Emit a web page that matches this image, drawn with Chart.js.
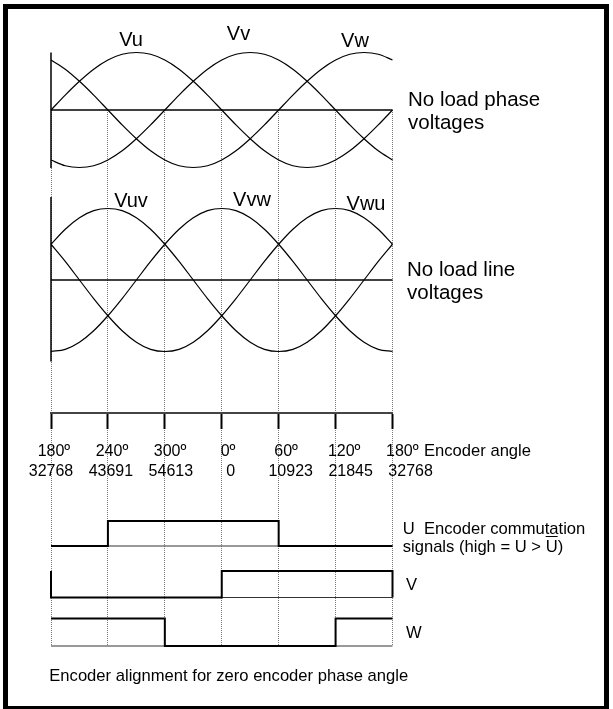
<!DOCTYPE html>
<html>
<head>
<meta charset="utf-8">
<script src="https://cdn.jsdelivr.net/npm/chart.js@4.4.0/dist/chart.umd.min.js"></script>
<style>
  html, body { margin: 0; padding: 0; background: #fff; }
  #wrap { position: relative; width: 613px; height: 709px; overflow: hidden;
          font-family: "Liberation Sans", Arial, sans-serif; color: #000; }
  #frame { position: absolute; left: 3px; top: 4px; width: 606px; height: 707px;
           box-sizing: border-box; border: 5px solid #000; }
  canvas { position: absolute; left: 0; top: 0; }
  .lbl { position: absolute; white-space: nowrap; }
  .num { position: relative; }
  .deg { position: absolute; left: 100%; top: 0; }
  .bar { text-decoration: overline; }
</style>
</head>
<body>
<div id="wrap">
  <div id="frame"></div>
  <canvas id="diagram" width="613" height="709"></canvas>
</div>
<script>
// electrical angle (0 = encoder 180º), sampled every 15º
const angles = [0, 15, 30, 45, 60, 75, 90, 105, 120, 135, 150, 165, 180,
                195, 210, 225, 240, 255, 270, 285, 300, 315, 330, 345, 360];

// no load phase voltages (per unit)
const vu = [0, .26, .5, .71, .87, .97, 1, .97, .87, .71, .5, .26, 0,
            -.26, -.5, -.71, -.87, -.97, -1, -.97, -.87, -.71, -.5, -.26, 0];
const vv = [-.87, -.97, -1, -.97, -.87, -.71, -.5, -.26, 0, .26, .5, .71, .87,
            .97, 1, .97, .87, .71, .5, .26, 0, -.26, -.5, -.71, -.87];
const vw = [.87, .71, .5, .26, 0, -.26, -.5, -.71, -.87, -.97, -1, -.97, -.87,
            -.71, -.5, -.26, 0, .26, .5, .71, .87, .97, 1, .97, .87];

// no load line voltages (per unit of line peak)
const vuv = [.5, .71, .87, .97, 1, .97, .87, .71, .5, .26, 0, -.26, -.5,
             -.71, -.87, -.97, -1, -.97, -.87, -.71, -.5, -.26, 0, .26, .5];
const vvw = [-1, -.97, -.87, -.71, -.5, -.26, 0, .26, .5, .71, .87, .97, 1,
             .97, .87, .71, .5, .26, 0, -.26, -.5, -.71, -.87, -.97, -1];
const vwu = [.5, .26, 0, -.26, -.5, -.71, -.87, -.97, -1, -.97, -.87, -.71, -.5,
             -.26, 0, .26, .5, .71, .87, .97, 1, .97, .87, .71, .5];

// encoder axis
const tickAngles = [0, 60, 120, 180, 240, 300, 360];
const encoderDeg = ['180', '240', '300', '0', '60', '120', '180'];
const encoderCount = ['32768', '43691', '54613', '0', '10923', '21845', '32768'];

// commutation signals, state per 60º sector
const sectorStart = [0, 60, 120, 180, 240, 300];
const uState = [0, 1, 1, 1, 0, 0];
const vState = [0, 0, 0, 1, 1, 1];
const wState = [1, 1, 0, 0, 0, 1];

// layout: plot area and where each strip sits (zero pixel, pixels per unit)
const AREA = { left: 51, right: 392.5, top: 110, bottom: 646 };
const STRIPS = {
  yPhase: { zero: 110, unit: 57.5 },
  yLine:  { zero: 280, unit: 71.5 },
  yEnc:   { zero: 413, unit: 1 },
  yU:     { zero: 546, unit: 25 },
  yV:     { zero: 597.5, unit: 26.5 },
  yW:     { zero: 646, unit: 27.5 }
};
const FULL = 360;

function band(id) {
  const s = STRIPS[id];
  return {
    type: 'linear', display: false,
    min: -(AREA.bottom - s.zero) / s.unit,
    max: (s.zero - AREA.top) / s.unit
  };
}

function curve(vals, axis) {
  return {
    data: angles.map((a, i) => ({ x: a, y: vals[i] })),
    yAxisID: axis, borderColor: '#000', borderWidth: 1.2,
    cubicInterpolationMode: 'monotone', clip: false, pointRadius: 0
  };
}

function straight(points, axis, color, width) {
  return { data: points, yAxisID: axis, borderColor: color, borderWidth: width,
           clip: false, pointRadius: 0 };
}

function signal(states, axis) {
  const last = states[states.length - 1];
  const pts = [{ x: sectorStart[0], y: last }];
  sectorStart.forEach((a, i) => pts.push({ x: a, y: states[i] }));
  pts.push({ x: FULL, y: last }, { x: FULL, y: states[0] });
  return { data: pts, yAxisID: axis, borderColor: '#000', borderWidth: 2,
           stepped: 'before', clip: false, pointRadius: 0 };
}

const datasets = [
  signal(uState, 'yU'), signal(vState, 'yV'), signal(wState, 'yW'),
  curve(vu, 'yPhase'), curve(vv, 'yPhase'), curve(vw, 'yPhase'),
  curve(vuv, 'yLine'), curve(vvw, 'yLine'), curve(vwu, 'yLine'),
  straight([{ x: 0, y: -1.01 }, { x: 0, y: 1 }], 'yPhase', '#000', 1.5),
  straight([{ x: 0, y: -1.14 }, { x: 0, y: 1.16 }], 'yLine', '#000', 1.5),
  straight([{ x: 0, y: 0 }, { x: FULL, y: 0 }], 'yPhase', '#000', 1.3),
  straight([{ x: 0, y: 0 }, { x: FULL, y: 0 }], 'yLine', '#000', 1.3),
  straight([{ x: 0, y: 0 }, { x: FULL, y: 0 }], 'yU', '#333', 1),
  straight([{ x: 0, y: 0 }, { x: FULL, y: 0 }], 'yV', '#333', 1),
  straight([{ x: 0, y: 0 }, { x: FULL, y: 0 }], 'yW', '#333', 1)
];

const chart = new Chart(document.getElementById('diagram'), {
  type: 'line',
  data: { datasets: datasets },
  options: {
    responsive: false,
    animation: false,
    devicePixelRatio: 1,
    layout: { padding: { left: AREA.left, right: 613 - AREA.right,
                         top: AREA.top, bottom: 709 - AREA.bottom } },
    plugins: { legend: { display: false }, tooltip: { enabled: false } },
    elements: { point: { radius: 0 } },
    scales: {
      x: {
        type: 'linear', min: 0, max: FULL, position: { yEnc: 0 },
        ticks: { display: false, stepSize: 60 },
        grid: { color: '#7a7a7a', lineWidth: 1, drawTicks: false },
        border: { display: false, dash: [1, 1] }
      },
      xEnc: {
        axis: 'x', type: 'linear', min: 0, max: FULL, position: { yEnc: 0 },
        ticks: { display: false, stepSize: 60 },
        grid: { drawOnChartArea: false, drawTicks: true, tickLength: 15,
                tickColor: '#000', tickWidth: 2 },
        border: { display: true, color: '#444', width: 2 }
      },
      yPhase: band('yPhase'),
      yLine: band('yLine'),
      yEnc: band('yEnc'),
      yU: band('yU'),
      yV: band('yV'),
      yW: band('yW')
    }
  }
});

// ---- text ----
const wrap = document.getElementById('wrap');
// y is the cap centre of the first line
function label(html, x, y, size, centre, lineH) {
  const d = document.createElement('div');
  const lh = lineH || size;
  d.className = 'lbl';
  d.innerHTML = html;
  d.style.fontSize = size + 'px';
  d.style.lineHeight = lh + 'px';
  d.style.left = x + 'px';
  d.style.top = (y - lh / 2) + 'px';
  if (centre) d.style.transform = 'translateX(-50%)';
  wrap.appendChild(d);
}

const xs = chart.scales.x;
const ys = chart.scales;

label('Vu', 131, 39, 20, true);
label('Vv', 238.5, 33, 20, true);
label('Vw', 355, 40, 20, true);
label('Vuv', 131, 199.5, 20, true);
label('Vvw', 252, 199, 20, true);
label('Vwu', 366, 202.5, 20, true);

label('No load phase<br>voltages', 408, ys.yPhase.getPixelForValue(0) - 10.5, 20.5, false, 22.7);
label('No load line<br>voltages', 407, ys.yLine.getPixelForValue(0) - 10.5, 20.5, false, 22.7);

tickAngles.forEach((a, i) => {
  const px = xs.getPixelForValue(a);
  const x1 = AREA.left + (px - AREA.left) * 1.02;
  const x2 = AREA.left + (px - AREA.left) * 1.053;
  label('<span class="num">' + encoderDeg[i] + '<span class="deg">º</span></span>', x1, 451, 16, true);
  label(encoderCount[i], x2, 470.5, 16, true);
});
label('Encoder angle', 424, 451, 16.6, false);

label('U&nbsp; Encoder commutation<br>signals (high = U &gt; <span class="bar">U</span>)', 402.7, 529, 16.6, false, 18.5);
label('V', 406, ys.yV.getPixelForValue(0) - 12.5, 16.6, false);
label('W', 406, ys.yW.getPixelForValue(0) - 12.3, 16.6, false);

label('Encoder alignment for zero encoder phase angle', 49.3, 676, 16.6, false);
</script>
</body>
</html>
